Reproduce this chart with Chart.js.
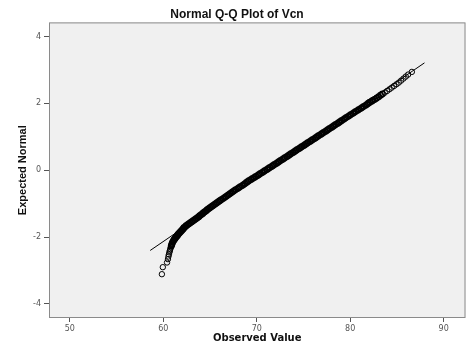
<!DOCTYPE html>
<html>
<head>
<meta charset="utf-8">
<script src="https://cdn.jsdelivr.net/npm/chart.js@4"></script>
<style>
  html, body { margin: 0; padding: 0; background: #fff; }
  #qqChart { display: block; }
</style>
</head>
<body>
<canvas id="qqChart" width="471" height="350"></canvas>
<script>
// Normal Q-Q plot of Vcn

const observedValue = [
    59.85, 59.95, 60.4, 60.5, 60.55, 60.6, 60.65, 60.7, 60.75, 60.8,
    60.85, 60.9, 60.95, 61.0, 61.1, 61.15, 61.25, 61.3, 61.4, 61.5,
    61.55, 61.65, 61.75, 61.85, 61.95, 62.05, 62.15, 62.2, 62.35, 62.45,
    62.6, 62.75, 62.9, 63.05, 63.2, 63.35, 63.5, 63.65, 63.8, 63.9,
    64.05, 64.2, 64.3, 64.45, 64.6, 64.7, 64.85, 65.0, 65.15, 65.3,
    65.45, 65.6, 65.75, 65.9, 66.05, 66.2, 66.4, 66.55, 66.7, 66.85,
    67.0, 67.15, 67.3, 67.45, 67.6, 67.75, 67.95, 68.1, 68.25, 68.45,
    68.6, 68.75, 68.9, 69.05, 69.2, 69.4, 69.55, 69.75, 69.9, 70.1,
    70.25, 70.4, 70.6, 70.75, 70.9, 71.1, 71.25, 71.4, 71.6, 71.75,
    71.9, 72.1, 72.25, 72.4, 72.55, 72.75, 72.9, 73.05, 73.25, 73.4,
    73.55, 73.7, 73.9, 74.05, 74.2, 74.35, 74.55, 74.7, 74.85, 75.05,
    75.2, 75.35, 75.5, 75.7, 75.85, 76.0, 76.2, 76.35, 76.5, 76.65,
    76.85, 77.0, 77.15, 77.35, 77.5, 77.65, 77.8, 78.0, 78.15, 78.3,
    78.45, 78.65, 78.8, 78.95, 79.1, 79.3, 79.45, 79.6, 79.8, 79.95,
    80.1, 80.3, 80.45, 80.6, 80.8, 80.95, 81.15, 81.3, 81.45, 81.65,
    81.8, 81.95, 82.1, 82.3, 82.45, 82.65, 82.85, 83.05, 83.25, 83.45,
    83.7, 83.95, 84.2, 84.45, 84.7, 84.95, 85.2, 85.45, 85.7, 85.95,
    86.2, 86.6
];
const expectedNormal = [
    -3.11, -2.90, -2.76, -2.66, -2.58, -2.52, -2.46, -2.41, -2.36, -2.31,
    -2.27, -2.23, -2.19, -2.15, -2.11, -2.08, -2.05, -2.02, -1.99, -1.96,
    -1.93, -1.90, -1.87, -1.84, -1.81, -1.78, -1.75, -1.72, -1.69, -1.66,
    -1.63, -1.60, -1.57, -1.54, -1.51, -1.48, -1.45, -1.42, -1.39, -1.36,
    -1.33, -1.30, -1.27, -1.24, -1.21, -1.18, -1.15, -1.12, -1.09, -1.06,
    -1.03, -1.00, -0.97, -0.94, -0.91, -0.88, -0.85, -0.82, -0.79, -0.76,
    -0.73, -0.70, -0.67, -0.64, -0.61, -0.58, -0.55, -0.52, -0.49, -0.46,
    -0.43, -0.40, -0.37, -0.34, -0.31, -0.28, -0.25, -0.22, -0.19, -0.16,
    -0.13, -0.10, -0.07, -0.04, -0.01, 0.02, 0.05, 0.08, 0.11, 0.14,
    0.17, 0.20, 0.23, 0.26, 0.29, 0.32, 0.35, 0.38, 0.41, 0.44,
    0.47, 0.50, 0.53, 0.56, 0.59, 0.62, 0.65, 0.68, 0.71, 0.74,
    0.77, 0.80, 0.83, 0.86, 0.89, 0.92, 0.95, 0.98, 1.01, 1.04,
    1.07, 1.10, 1.13, 1.16, 1.19, 1.22, 1.25, 1.28, 1.31, 1.34,
    1.37, 1.40, 1.43, 1.46, 1.49, 1.52, 1.55, 1.58, 1.61, 1.64,
    1.67, 1.70, 1.73, 1.76, 1.79, 1.82, 1.85, 1.88, 1.91, 1.94,
    1.97, 2.00, 2.03, 2.06, 2.09, 2.12, 2.16, 2.20, 2.24, 2.28,
    2.32, 2.37, 2.42, 2.47, 2.52, 2.57, 2.62, 2.68, 2.74, 2.80,
    2.86, 2.94, 3.16
];

// reference line end points
const refLineX = [58.6, 87.95];
const refLineY = [-2.40, 3.21];

const xTicks = [50, 60, 70, 80, 90];
const yTicks = [-4, -2, 0, 2, 4];

const qqPoints = observedValue.map((v, i) => ({ x: v, y: expectedNormal[i] }));
const linePoints = refLineX.map((v, i) => ({ x: v, y: refLineY[i] }));

// grey plot frame behind the data
const plotFrame = {
    id: 'plotFrame',
    beforeDatasetsDraw(chart) {
        const { ctx, chartArea: a } = chart;
        ctx.save();
        ctx.fillStyle = '#f0f0f0';
        ctx.fillRect(a.left, a.top, a.right - a.left, a.bottom - a.top);
        ctx.strokeStyle = '#8a8a8a';
        ctx.lineWidth = 1;
        ctx.strokeRect(a.left + 0.5, a.top + 0.5, a.right - a.left - 1, a.bottom - a.top - 1);
        ctx.restore();
    }
};

const tickFont = { family: 'DejaVu Sans', size: 8 };

new Chart(document.getElementById('qqChart'), {
    type: 'scatter',
    data: {
        datasets: [{
            type: 'line',
            data: linePoints,
            borderColor: '#000',
            borderWidth: 1,
            pointRadius: 0,
            fill: false
        }, {
            data: qqPoints,
            pointRadius: 2.7,
            // thin rings where points are sparse (tails), heavier in the dense middle
            pointBorderWidth: ctx => {
                const y = ctx.raw ? ctx.raw.y : 0;
                return (y < -2.3 || y > 2.3) ? 1 : 1.5;
            },
            pointBorderColor: '#000',
            pointBackgroundColor: 'rgba(0,0,0,0)'
        }]
    },
    options: {
        responsive: false,
        animation: false,
        events: [],
        layout: { padding: { left: 6, right: 3, top: 0, bottom: 0 } },
        plugins: {
            legend: { display: false },
            tooltip: { enabled: false },
            title: {
                display: true,
                text: 'Normal Q-Q Plot of Vcn',
                color: '#111',
                font: { family: 'Liberation Sans', size: 12, weight: 'bold' },
                padding: { top: 7, bottom: 1 }
            }
        },
        scales: {
            x: {
                type: 'linear',
                min: 47.77,
                max: 92.34,
                afterBuildTicks: s => { s.ticks = xTicks.map(v => ({ value: v })); },
                afterFit: s => { s.height = 32; },
                grid: { drawOnChartArea: false, drawTicks: true, tickLength: 4, tickColor: '#555' },
                border: { display: false },
                ticks: { color: '#555', font: tickFont, padding: 2, maxRotation: 0 },
                title: {
                    display: true,
                    text: 'Observed Value',
                    color: '#111',
                    font: { family: 'DejaVu Sans', size: 10, weight: 'bold' },
                    padding: { top: 0, bottom: 6 }
                }
            },
            y: {
                type: 'linear',
                min: -4.42,
                max: 4.42,
                afterBuildTicks: s => { s.ticks = yTicks.map(v => ({ value: v })); },
                afterFit: s => { s.width = 43; },
                grid: { drawOnChartArea: false, drawTicks: true, tickLength: 5, tickColor: '#555' },
                border: { display: false },
                ticks: { color: '#555', font: tickFont, padding: 3 },
                title: {
                    display: true,
                    text: 'Expected Normal',
                    color: '#111',
                    font: { family: 'Liberation Sans', size: 11, weight: 'bold' },
                    padding: { top: 10, bottom: 0 }
                }
            }
        }
    },
    plugins: [plotFrame]
});
</script>
</body>
</html>
